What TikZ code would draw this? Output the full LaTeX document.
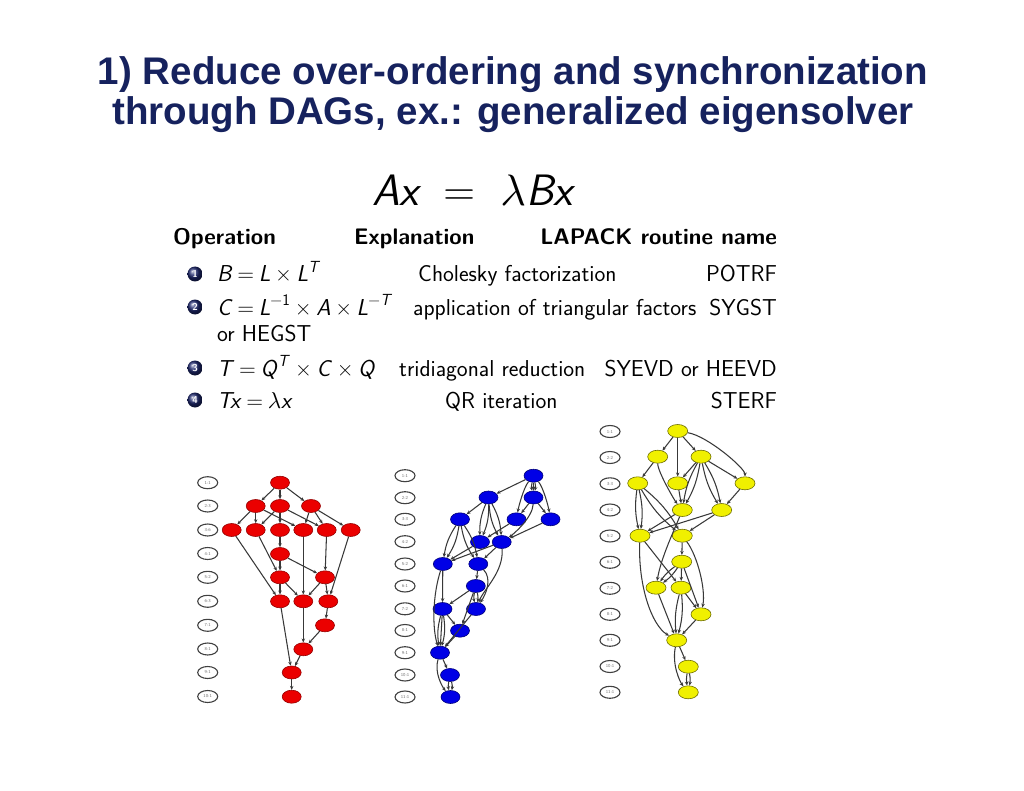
\documentclass[tikz,border=0pt]{standalone}
\usepackage{fontspec}
\newfontfamily\titlefont{Liberation Sans}
\usetikzlibrary{shapes.geometric,arrows.meta}
\definecolor{titleblue}{RGB}{22,34,94}
\definecolor{ballblue}{RGB}{30,40,110}
\definecolor{rfill}{RGB}{235,0,0}
\definecolor{rdraw}{RGB}{150,0,0}
\definecolor{bfill}{RGB}{0,0,230}
\definecolor{bdraw}{RGB}{0,0,120}
\definecolor{yfill}{RGB}{240,240,0}
\definecolor{ydraw}{RGB}{110,110,0}
\newcommand\mi[1]{\textit{#1}}
\newcommand\lam[1]{\scalebox{#1}{\fontsize{10}{12}\selectfont$\lambda$}}
\newcommand\bo[1]{\kern.2em#1\kern.2em}
\tikzset{
  ttl/.style={font=\titlefont\bfseries\fontsize{38.5}{44}\selectfont, text=titleblue, inner sep=0pt},
  tx/.style={font=\sffamily\fontsize{23}{27}\selectfont, inner sep=0pt},
  hd/.style={font=\sffamily\bfseries\fontsize{22.5}{27}\selectfont, inner sep=0pt},
  bl/.style={circle, shade, ball color=ballblue, minimum size=15pt, inner sep=0pt, text=white, font=\sffamily\bfseries\fontsize{10}{10}\selectfont},
  lb/.style={ellipse, draw=black!75, line width=1.1pt, minimum width=20pt, minimum height=12pt, inner sep=0.5pt, font=\sffamily\fontsize{4.5}{5}\selectfont, text=black!55},
  rn/.style={ellipse, draw=rdraw, fill=rfill, line width=0.6pt, minimum width=19pt, minimum height=13pt, inner sep=0pt},
  bn/.style={ellipse, draw=bdraw, fill=bfill, line width=0.6pt, minimum width=19pt, minimum height=13pt, inner sep=0pt},
  yn/.style={ellipse, draw=ydraw, fill=yfill, line width=0.6pt, minimum width=20pt, minimum height=13pt, inner sep=0pt},
  e/.style={-{Stealth[length=4pt,width=3.4pt]}, draw=black!78, line width=1.05pt},
}
\begin{document}
\begin{tikzpicture}[x=1pt,y=-1pt]
\useasboundingbox[fill=white] (0,0) rectangle (1024,791);

% title
\node[ttl] (t1) at (513,75) {1) Reduce over-ordering and synchronization};
\node[ttl] (t2) at (513,115) {through DAGs, ex.: generalized eigensolver};

% equation
\node[font=\sffamily\fontsize{44}{48}\selectfont, inner sep=0pt] (eq) at (474,190) {\mi{Ax}\hspace{0.5em}=\hspace{0.55em}\lam{4.4}\mi{Bx}};

% table
\node[hd, anchor=base west] (h1) at (173,245) {Operation};
\node[hd, anchor=base west] (h2) at (354,245) {Explanation};
\node[hd, anchor=base east] (h3) at (777,245) {LAPACK routine name};

\node[bl] (k1) at (195,274) {1};
\node[tx, anchor=base west] (o1) at (217,282) {\mi{B}\bo{=}\mi{L}\bo{×}\mi{L}\textsuperscript{\mi{T}}};
\node[tx, anchor=base west] (x1) at (418,282) {Cholesky factorization};
\node[tx, anchor=base east] (n1) at (777,282) {POTRF};

\node[bl] (k2) at (195,307) {2};
\node[tx, anchor=base west] (o2) at (217,315) {\mi{C}\bo{=}\mi{L}\textsuperscript{−1}\bo{×}\mi{A}\bo{×}\mi{L}\textsuperscript{−\mi{T}}};
\node[tx, anchor=base west] (x2) at (413,315) {application of triangular factors};
\node[tx, anchor=base east] (n2) at (777,315) {SYGST};
\node[tx, anchor=base west] (o2b) at (217,341) {or HEGST};

\node[bl] (k3) at (195,368) {3};
\node[tx, anchor=base west] (o3) at (217,376) {\mi{T}\bo{=}\mi{Q}\textsuperscript{\mi{T}}\bo{×}\mi{C}\bo{×}\mi{Q}};
\node[tx, anchor=base west] (x3) at (399,376) {tridiagonal reduction};
\node[tx, anchor=base east] (n3) at (777,376) {SYEVD or HEEVD};

\node[bl] (k4) at (195,400) {4};
\node[tx, anchor=base west] (o4) at (217,408) {\mi{Tx}\bo{=}\lam{2.3}\mi{x}};
\node[tx, anchor=base west] (x4) at (445,408) {QR iteration};
\node[tx, anchor=base east] (n4) at (777,408) {STERF};

% ---------------- red DAG ----------------
\foreach \t/\yy [count=\i] in {1:1/482.7,2:3/506,3:6/530,4:1/553.5,5:2/577.3,6:3/601.3,7:1/625.3,8:1/649,9:1/672.5,10:1/696.5}
  \node[lb] (rl\i) at (207.7,\yy) {\t};

\node[rn] (r1) at (280,482.7) {};
\node[rn] (r2a) at (255.7,506) {};
\node[rn] (r2b) at (280,506) {};
\node[rn] (r2c) at (311,506) {};
\node[rn] (r3a) at (231.7,530) {};
\node[rn] (r3b) at (255.7,530) {};
\node[rn] (r3c) at (280,530) {};
\node[rn] (r3d) at (303.3,530) {};
\node[rn] (r3e) at (326.7,530) {};
\node[rn] (r3f) at (350.7,530) {};
\node[rn] (r4) at (280,554) {};
\node[rn] (r5a) at (280,577.3) {};
\node[rn] (r5b) at (325,577.3) {};
\node[rn] (r6a) at (280,601.3) {};
\node[rn] (r6b) at (303.3,601.3) {};
\node[rn] (r6c) at (328.3,601.3) {};
\node[rn] (r7) at (325,625.3) {};
\node[rn] (r8) at (303.3,649.3) {};
\node[rn] (r9) at (291.7,672.5) {};
\node[rn] (r10) at (291.7,696.7) {};

\foreach \a/\b in {r1/r2a,r1/r2b,r1/r2c,
  r2a/r3a,r2a/r3b,r2a/r3d,r2b/r3b,r2b/r3c,r2b/r3e,r2c/r3d,r2c/r3e,r2c/r3f,
  r3a/r6a,r3b/r5a,r3c/r4,r3d/r6b,r3e/r5b,r3f/r6c,
  r4/r5a,r4/r5b,r5a/r6a,r5a/r6b,r5b/r6b,r5b/r6c,
  r6a/r9,r6b/r8,r6c/r7,r7/r8,r8/r9,r9/r10}
  \draw[e] (\a) -- (\b);

% ---------------- blue DAG ----------------
\foreach \t/\yy [count=\i] in {1:1/475.7,2:2/497.7,3:3/519.3,4:2/541.7,5:2/564,6:1/586,7:2/608.8,8:1/630.5,9:1/652.7,10:1/675,11:1/697}
  \node[lb] (bl\i) at (405,\yy) {\t};

\node[bn] (b1) at (533.5,475.7) {};
\node[bn] (b2a) at (488.5,497.5) {};
\node[bn] (b2b) at (533.5,497.5) {};
\node[bn] (b3a) at (460,519.3) {};
\node[bn] (b3b) at (516.5,519.3) {};
\node[bn] (b3c) at (550.5,519.3) {};
\node[bn] (b4a) at (480,542) {};
\node[bn] (b4b) at (501.7,542) {};
\node[bn] (b5a) at (442.8,564) {};
\node[bn] (b5b) at (478.3,564) {};
\node[bn] (b6) at (475.8,586) {};
\node[bn] (b7a) at (442.5,609) {};
\node[bn] (b7b) at (476,609) {};
\node[bn] (b8) at (460,630.7) {};
\node[bn] (b9) at (440,652.7) {};
\node[bn] (b10) at (450,675) {};
\node[bn] (b11) at (450.5,697) {};

\foreach \a/\b in {b1/b2a,b1/b2b,b2b/b3b,b2b/b3c,b2a/b3a,b3b/b4a,b3c/b4b,
  b4a/b5a,b4b/b5a,b4b/b5b,b5a/b7a,b5b/b6,b6/b7a,b6/b8,b7a/b8,b7a/b9,b7b/b9,b8/b9,b9/b10}
  \draw[e] (\a) -- (\b);
\foreach \a/\b in {b1/b2b,b2a/b4a,b2a/b4b,b3a/b5a,b3a/b5b,b6/b7b,b7a/b9,b10/b11}
  {\draw[e] (\a) to[bend left=12] (\b); \draw[e] (\a) to[bend right=12] (\b);}
\draw[e] (b1) .. controls +(-10,12) and +(2,-12) .. (b3b);
\draw[e] (b1) .. controls +(10,12) and +(-2,-12) .. (b3c);
\draw[e] (b2b) .. controls +(-1,20) and +(12,-8) .. (b4b);
\draw[e] (b4b) .. controls +(2,30) and +(8,-20) .. (b7b);
\draw[e] (b5a) .. controls +(-10,30) and +(-8,-25) .. (b9);
\draw[e] (b5b) .. controls +(14,15) and +(10,-15) .. (b7b);
\draw[e] (b9) .. controls +(-6,20) and +(-8,-10) .. (b11);

% ---------------- yellow DAG ----------------
\foreach \t/\yy [count=\i] in {1:1/431.5,2:2/457.5,3:3/483.8,4:2/510,5:2/536,6:1/562.3,7:2/588.3,8:1/614.3,9:1/640.3,10:1/666.5,11:1/692.3}
  \node[lb] (yl\i) at (610,\yy) {\t};

\node[yn] (y1) at (677.7,431) {};
\node[yn] (y2a) at (657.7,456.7) {};
\node[yn] (y2b) at (701,456.7) {};
\node[yn] (y3a) at (637.7,483.3) {};
\node[yn] (y3b) at (677.7,483.3) {};
\node[yn] (y3c) at (745,483.3) {};
\node[yn] (y4a) at (682.3,510) {};
\node[yn] (y4b) at (721.7,510) {};
\node[yn] (y5a) at (640,535.7) {};
\node[yn] (y5b) at (682.3,535.7) {};
\node[yn] (y6) at (681.7,561.7) {};
\node[yn] (y7a) at (656,587.7) {};
\node[yn] (y7b) at (681,587.7) {};
\node[yn] (y8) at (701,614.3) {};
\node[yn] (y9) at (676.7,640.3) {};
\node[yn] (y10) at (688.3,666.7) {};
\node[yn] (y11) at (688.3,692.3) {};

\foreach \a/\b in {y1/y2a,y1/y2b,y1/y3b,y2a/y3a,y2b/y3b,y2b/y3c,y3b/y4a,y3c/y4b,
  y4a/y5a,y4b/y5a,y4b/y5b,y5a/y7b,y5b/y6,y6/y7b,y6/y8,y7a/y9,y7b/y8,y8/y9,y9/y10}
  \draw[e] (\a) -- (\b);
\foreach \a/\b in {y2b/y4a,y2b/y4b,y3a/y5a,y3a/y5b,y6/y7a,y7b/y9,y10/y11}
  {\draw[e] (\a) to[bend left=10] (\b); \draw[e] (\a) to[bend right=10] (\b);}
\draw[e] (y1) .. controls +(30,5) and +(0,-15) .. (y3c);
\draw[e] (y2a) .. controls +(0,15) and +(-8,-10) .. (y4a);
\draw[e] (y4a) .. controls +(-8,20) and +(5,-30) .. (y7a);
\draw[e] (y5a) .. controls +(-2,50) and +(-25,-15) .. (y9);
\draw[e] (y5b) .. controls +(15,20) and +(5,-25) .. (y8);
\draw[e] (y9) .. controls +(-5,25) and +(-8,-10) .. (y11);
\end{tikzpicture}
\end{document}
